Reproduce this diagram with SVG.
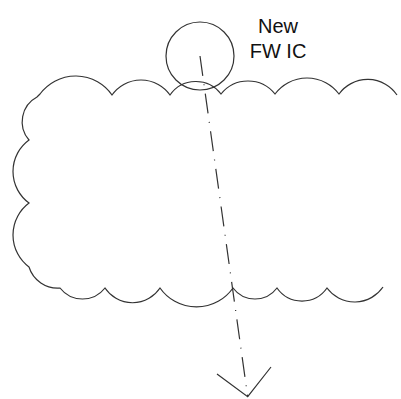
<svg xmlns="http://www.w3.org/2000/svg" width="401" height="399" viewBox="0 0 401 399">
<style>
.s{fill:none;stroke:#333;stroke-width:1.2}
.t{font-family:"Liberation Sans",Arial,sans-serif;font-size:20px;fill:#111;text-anchor:middle}
</style>
<rect width="401" height="399" fill="#fff"/>
<g id="cloud">
<path class="s" d="M397,95 A35.5,35.5 0 0 0 339,94 A40,40 0 0 0 275,94 A34.5,34.5 0 0 0 221,94 A31.5,31.5 0 0 0 170,95 A35.5,35.5 0 0 0 112,95 A44.3,44.3 0 0 0 40,94 L37,97 A28,28 0 0 0 29,140 A39,39 0 0 0 29,203 A40,40 0 0 0 29,267 A30,30 0 0 0 60,288 A28.5,28.5 0 0 0 105,288 A33,33 0 0 0 160,288 A44.6,44.6 0 0 0 233,288 A27.5,27.5 0 0 0 277,288 A30.5,30.5 0 0 0 327,288 A34.3,34.3 0 0 0 383,287"/>
</g>
<g id="new-fw-ic">
<circle class="s" cx="200" cy="56" r="34"/>
<text class="t" x="278" y="33">New</text>
<text class="t" x="278" y="58">FW IC</text>
</g>
<g id="connectors">
<path class="s" d="M200,56 L247.7,396.7" stroke-dasharray="20 8.5 1 8.5"/>
<path class="s" d="M217,374 L247.7,396.7 L271,367"/>
</g>
</svg>
